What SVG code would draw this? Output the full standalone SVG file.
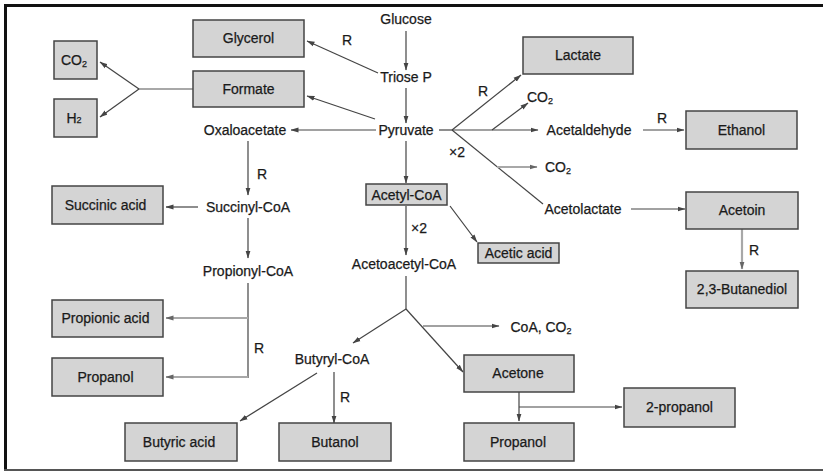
<svg xmlns="http://www.w3.org/2000/svg" width="823" height="472" viewBox="0 0 823 472">
<defs>
<marker id="ah" markerWidth="8" markerHeight="6" refX="7.5" refY="3" orient="auto" markerUnits="userSpaceOnUse">
<path d="M0,0.5 L8,3 L0,5.5 Z" fill="#444"/>
</marker>
<marker id="ahg" markerWidth="8" markerHeight="6" refX="7.5" refY="3" orient="auto" markerUnits="userSpaceOnUse">
<path d="M0,0.5 L8,3 L0,5.5 Z" fill="#666"/>
</marker>
</defs>
<style>
text{font-family:"Liberation Sans",Arial,sans-serif;font-size:14px;fill:#1a1a1a;text-anchor:middle;stroke:#1a1a1a;stroke-width:0.25}
.box rect{fill:#d4d4d4;stroke:#444;stroke-width:1.5}
.ln{stroke:#444;stroke-width:1.2;fill:none}
.ar{stroke:#444;stroke-width:1.2;fill:none;marker-end:url(#ah)}
.gl{stroke:#a8a8a8;stroke-width:2.2;fill:none}
.ga{stroke:#a8a8a8;stroke-width:2.2;fill:none;marker-end:url(#ahg)}
.sub{font-size:9px}
</style>
<rect width="823" height="472" fill="#ffffff"/>
<g id="frame">
<line x1="5.5" y1="4" x2="5.5" y2="471" stroke="#111" stroke-width="3"/>
<line x1="4" y1="5.5" x2="823" y2="5.5" stroke="#111" stroke-width="3"/>
<line x1="4" y1="470" x2="823" y2="470" stroke="#555" stroke-width="2"/>
</g>

<g id="connectors">
<line class="ar" x1="406" y1="31" x2="406" y2="70"/>
<line class="ar" x1="406" y1="88" x2="406" y2="123"/>
<line class="ar" x1="378" y1="73" x2="307" y2="41"/>
<line class="ar" x1="375" y1="119" x2="307" y2="96"/>
<line class="gl" x1="193" y1="89" x2="139" y2="89"/>
<line class="ar" x1="139" y1="89" x2="100" y2="62"/>
<line class="ar" x1="139" y1="89" x2="100" y2="117"/>
<line class="ar" x1="376" y1="130" x2="291" y2="130"/>
<line class="ar" x1="248" y1="141" x2="248" y2="195"/>
<line class="ar" x1="198" y1="207" x2="166" y2="207"/>
<line class="ar" x1="248" y1="218" x2="248" y2="258"/>
<line class="ln" x1="248" y1="283" x2="248" y2="378"/>
<line class="ga" x1="248" y1="318" x2="166" y2="318"/>
<line class="ga" x1="248" y1="377" x2="166" y2="377"/>
<line class="ar" x1="406" y1="141" x2="406" y2="183"/>
<line class="ar" x1="406" y1="206" x2="406" y2="255"/>
<line class="ar" x1="450" y1="206" x2="477" y2="242"/>
<line class="ln" x1="406" y1="276" x2="406" y2="309"/>
<line class="ar" x1="406" y1="309" x2="353" y2="343"/>
<line class="ar" x1="406" y1="309" x2="463" y2="372"/>
<line class="ar" x1="423" y1="326" x2="499" y2="326"/>
<line class="ar" x1="317" y1="373" x2="240" y2="421"/>
<line class="ar" x1="334" y1="372" x2="334" y2="423"/>
<line class="ar" x1="519" y1="392" x2="519" y2="421"/>
<line class="ar" x1="519" y1="407" x2="622" y2="407"/>
<line class="ln" x1="439" y1="130" x2="452" y2="130"/>
<line class="ar" x1="452" y1="130" x2="521" y2="75"/>
<line class="ar" x1="452" y1="130" x2="538" y2="130"/>
<line class="ar" x1="492" y1="130" x2="528" y2="103"/>
<line class="ar" x1="643" y1="130" x2="684" y2="130"/>
<line class="ln" x1="452" y1="130" x2="543" y2="204"/>
<line class="ga" x1="497" y1="167" x2="537" y2="167"/>
<line class="ar" x1="631" y1="209" x2="685" y2="209"/>
<line class="ga" x1="742" y1="229" x2="742" y2="269"/>
</g>

<g id="n-glucose"><text x="406" y="24">Glucose</text></g>
<g id="n-triosep"><text x="406" y="82">Triose P</text></g>
<g id="n-pyruvate"><text x="406" y="135">Pyruvate</text></g>
<g id="n-oxaloacetate"><text x="245" y="135">Oxaloacetate</text></g>
<g id="n-succinylcoa"><text x="248" y="212">Succinyl-CoA</text></g>
<g id="n-propionylcoa"><text x="248" y="276">Propionyl-CoA</text></g>
<g id="n-acetoacetylcoa"><text x="404" y="269">Acetoacetyl-CoA</text></g>
<g id="n-butyrylcoa"><text x="332" y="364">Butyryl-CoA</text></g>
<g id="n-coaco2"><text x="541" y="332">CoA, CO<tspan class="sub" dy="2">2</tspan></text></g>
<g id="n-acetaldehyde"><text x="589" y="135">Acetaldehyde</text></g>
<g id="n-co2a"><text x="540" y="102">CO<tspan class="sub" dy="2">2</tspan></text></g>
<g id="n-co2b"><text x="558" y="172">CO<tspan class="sub" dy="2">2</tspan></text></g>
<g id="n-acetolactate"><text x="583" y="214">Acetolactate</text></g>

<g id="n-co2box" class="box"><rect x="54" y="41" width="43" height="38"/><text x="74" y="65">CO<tspan class="sub" dy="2">2</tspan></text></g>
<g id="n-h2" class="box"><rect x="54" y="99" width="43" height="38"/><text x="74" y="123">H<tspan class="sub">2</tspan></text></g>
<g id="n-glycerol" class="box"><rect x="193" y="20" width="111" height="37"/><text x="248.5" y="43">Glycerol</text></g>
<g id="n-formate" class="box"><rect x="193" y="71" width="111" height="36"/><text x="248.5" y="94">Formate</text></g>
<g id="n-succinic" class="box"><rect x="52" y="186" width="111" height="38"/><text x="105.5" y="210">Succinic acid</text></g>
<g id="n-propionic" class="box"><rect x="52" y="300" width="111" height="37"/><text x="105.5" y="323">Propionic acid</text></g>
<g id="n-propanol1" class="box"><rect x="52" y="358" width="111" height="38"/><text x="105.5" y="382">Propanol</text></g>
<g id="n-acetylcoa" class="box"><rect x="366" y="184" width="81" height="21"/><text x="406.5" y="199.5">Acetyl-CoA</text></g>
<g id="n-acetic" class="box"><rect x="478" y="243" width="81" height="20"/><text x="518.5" y="258">Acetic acid</text></g>
<g id="n-butyric" class="box"><rect x="125" y="423" width="112" height="38"/><text x="179" y="447">Butyric acid</text></g>
<g id="n-butanol" class="box"><rect x="279" y="423" width="112" height="38"/><text x="335" y="447">Butanol</text></g>
<g id="n-acetone" class="box"><rect x="464" y="355" width="110" height="37"/><text x="518" y="378">Acetone</text></g>
<g id="n-propanol2" class="box"><rect x="464" y="423" width="110" height="38"/><text x="518" y="447">Propanol</text></g>
<g id="n-2propanol" class="box"><rect x="624" y="388" width="111" height="39"/><text x="679.5" y="412">2-propanol</text></g>
<g id="n-lactate" class="box"><rect x="523" y="37" width="110" height="37"/><text x="578" y="60">Lactate</text></g>
<g id="n-ethanol" class="box"><rect x="686" y="111" width="111" height="38"/><text x="741.5" y="135">Ethanol</text></g>
<g id="n-acetoin" class="box"><rect x="686" y="192" width="112" height="37"/><text x="742" y="215">Acetoin</text></g>
<g id="n-butanediol" class="box"><rect x="686" y="271" width="112" height="37"/><text x="742" y="294">2,3-Butanediol</text></g>

<g id="labels">
<text x="347" y="45">R</text>
<text x="483" y="96">R</text>
<text x="662" y="123">R</text>
<text x="262" y="179">R</text>
<text x="259" y="353">R</text>
<text x="345" y="402">R</text>
<text x="754" y="255">R</text>
<text x="457" y="157">×2</text>
<text x="419" y="233">×2</text>
</g>
</svg>
